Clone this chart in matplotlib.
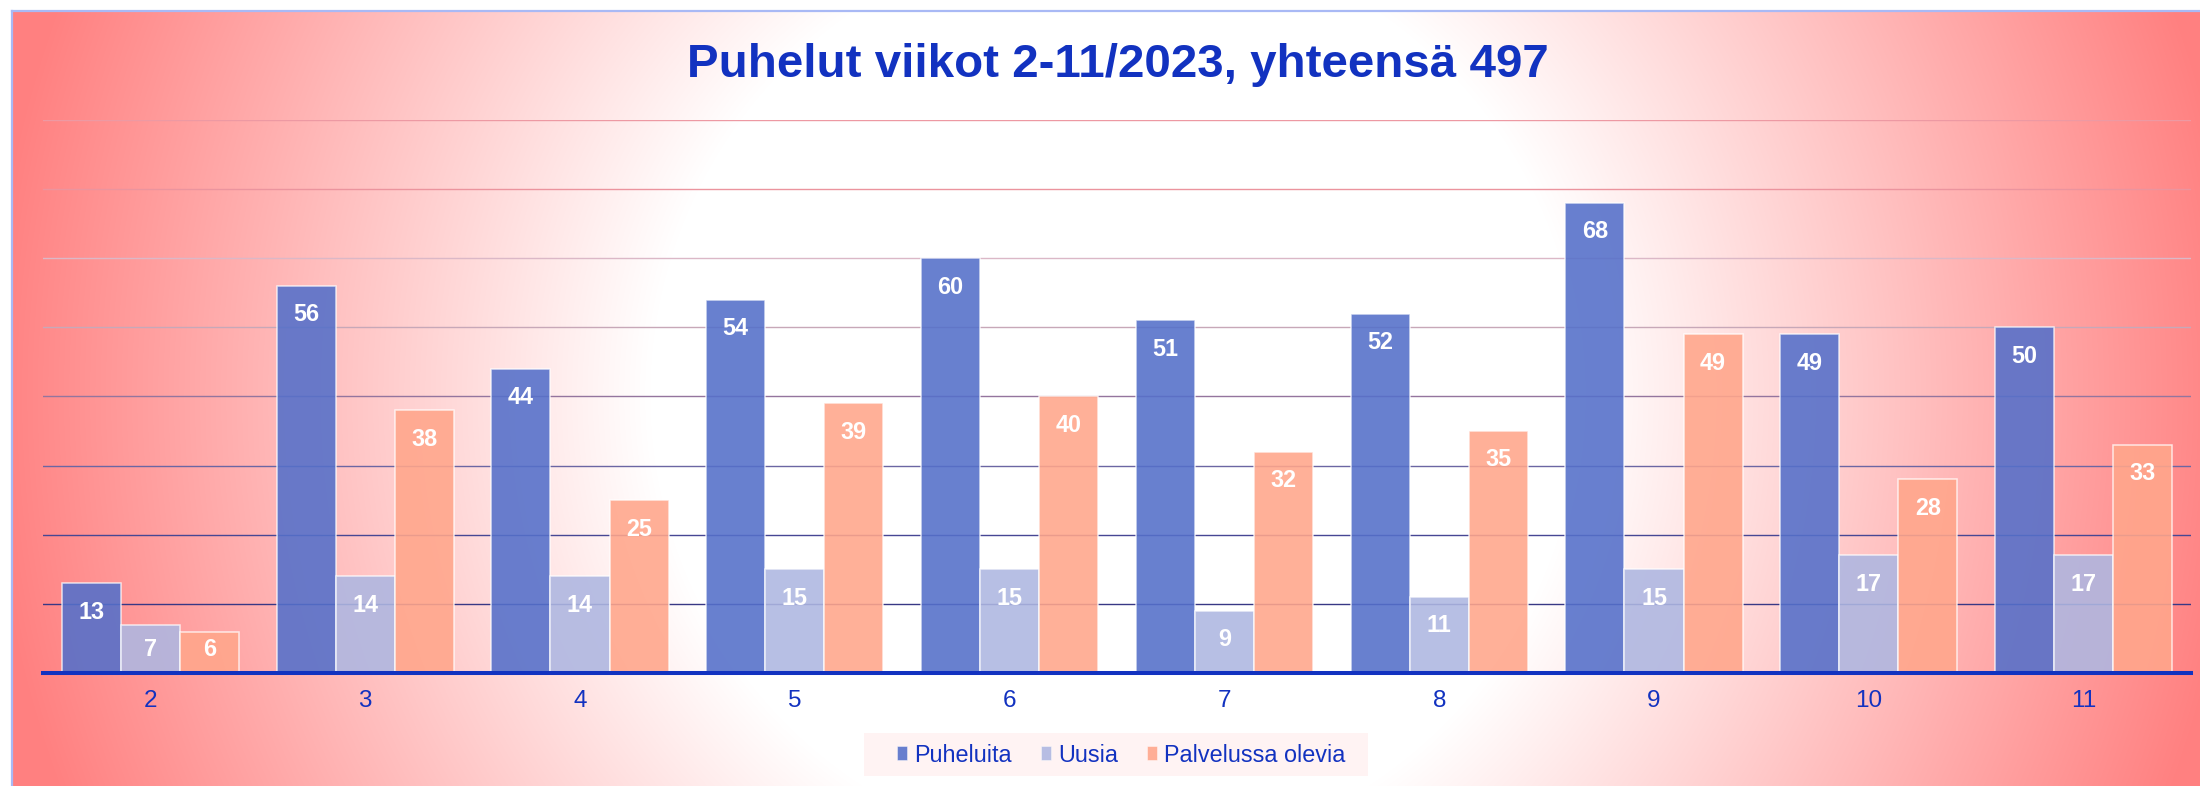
import numpy as np
import matplotlib
matplotlib.use("Agg")
import matplotlib.pyplot as plt
from matplotlib.colors import to_rgba
from matplotlib.patches import Patch, Rectangle
from matplotlib.lines import Line2D

# ---------------- data ----------------
weeks = ['2', '3', '4', '5', '6', '7', '8', '9', '10', '11']
puheluita = [13, 56, 44, 54, 60, 51, 52, 68, 49, 50]
uusia = [7, 14, 14, 15, 15, 9, 11, 15, 17, 17]
palvelussa = [6, 38, 25, 39, 40, 32, 35, 49, 28, 33]
series_names = ['Puheluita', 'Uusia', 'Palvelussa olevia']
title = 'Puhelut viikot 2-11/2023, yhteensä 497'

# ---------------- style ----------------
W, H = 2200, 786
DPI = 100
BLUE = '#1232C0'
bar_colors = ['#5570CA', '#AEB7E1', '#FFA68B']
BAR_ALPHA = 0.89
plt.rcParams['font.family'] = ['Liberation Sans', 'DejaVu Sans']

fig = plt.figure(figsize=(W / DPI, H / DPI), dpi=DPI)
fig.patch.set_facecolor('white')

# background: radial gradient white centre -> red edges, inside chart frame
left_px, top_px = 12, 11
cx, cy, r0, r1 = 1115, 395, 465, 1130
yy, xx = np.mgrid[0:H, 0:W]
r = np.hypot(xx - cx, yy - cy)
t = np.clip((r - r0) / (r1 - r0), 0, 1)
red = np.array([255, 128, 128]) / 255.0
img = np.ones((H, W, 3))
img = img * (1 - t[..., None]) + red * t[..., None]
outside = (xx < left_px) | (yy < top_px)
img[outside] = 1.0
bg = fig.add_axes([0, 0, 1, 1], zorder=-10)
bg.imshow(img, extent=(0, W, H, 0), aspect='auto', interpolation='bilinear')
bg.set_xlim(0, W)
bg.set_ylim(H, 0)
bg.axis('off')
bg.add_line(Line2D([left_px, W], [top_px, top_px], color='#A9B9F5', lw=1.6))
bg.add_line(Line2D([left_px, left_px], [top_px, H], color='#A9B9F5', lw=1.6))

# legend box
fig.add_artist(Rectangle((864 / W, (H - 776) / H), 504 / W, 43 / H,
                         transform=fig.transFigure, facecolor='#FFF3F3',
                         edgecolor='none', zorder=-5))

# main axes
ax_left, ax_right, ax_base, ax_top = 43, 2191, 673, 120
ax = fig.add_axes([ax_left / W, (H - ax_base) / H,
                   (ax_right - ax_left) / W, (ax_base - ax_top) / H])
ax.set_facecolor('none')
for s in ax.spines.values():
    s.set_visible(False)

x = np.arange(len(weeks))
bw = 0.275
offsets = [-bw, 0, bw]
all_series = [puheluita, uusia, palvelussa]
px_per_unit = (ax_base - ax_top) / 80.0

for vals, off, col in zip(all_series, offsets, bar_colors):
    ax.bar(x + off, vals, width=bw, color=to_rgba(col, BAR_ALPHA),
           edgecolor=(1, 1, 1, 0.75), linewidth=1.1, zorder=2)
    for xi, v in zip(x, vals):
        top = v * px_per_unit
        base_off = max(top - 35.4, 16.6)
        ax.annotate(str(v), (xi + off, 0), xytext=(0, base_off),
                    textcoords='offset pixels', ha='center', va='baseline',
                    color='white', fontsize=16.8, fontweight='bold', zorder=4)

ax.set_xlim(-0.5, len(weeks) - 0.5)
ax.set_ylim(0, 80)
ax.set_xticks(x)
ax.set_xticklabels(weeks)
ax.tick_params(axis='x', length=0, pad=12, labelsize=17.5, labelcolor=BLUE)
ax.set_yticks(np.arange(0, 90, 10))
ax.tick_params(axis='y', length=0, labelleft=False)
ax.set_axisbelow(True)
ax.grid(axis='y', linewidth=1.0)
grid_cols = {0: (0, 0, 0, 0),
             10: (0.22, 0.22, 0.52, 0.45), 20: (0.28, 0.28, 0.58, 0.42),
             30: (0.42, 0.40, 0.64, 0.40), 40: (0.58, 0.46, 0.62, 0.40),
             50: (0.78, 0.66, 0.72, 0.35), 60: (0.86, 0.72, 0.78, 0.35),
             70: (0.92, 0.58, 0.62, 0.40), 80: (0.93, 0.60, 0.64, 0.40)}
for tick_val, gl in zip(ax.get_yticks(), ax.yaxis.get_gridlines()):
    gl.set_color(grid_cols[int(round(tick_val))])
ax.axhline(0, color=BLUE, lw=2.9, zorder=5, clip_on=False)

# title
fig.text(1118 / W, (H - 77) / H, title, ha='center', va='baseline',
         fontsize=34.2, fontweight='bold', color=BLUE)

# legend
handles = [Patch(facecolor=to_rgba(c, BAR_ALPHA), edgecolor=(1, 1, 1, 0.6), linewidth=0.5)
           for c in bar_colors]
ax.legend(handles, series_names, loc='center',
          bbox_to_anchor=(1121.5 / W, (H - 755) / H), bbox_transform=fig.transFigure,
          ncol=3, frameon=False, fontsize=16.8, handlelength=0.43, handleheight=0.56,
          handletextpad=0.3, columnspacing=1.25, labelcolor=BLUE, borderpad=0.2)

fig.savefig('out.png', dpi=DPI)
